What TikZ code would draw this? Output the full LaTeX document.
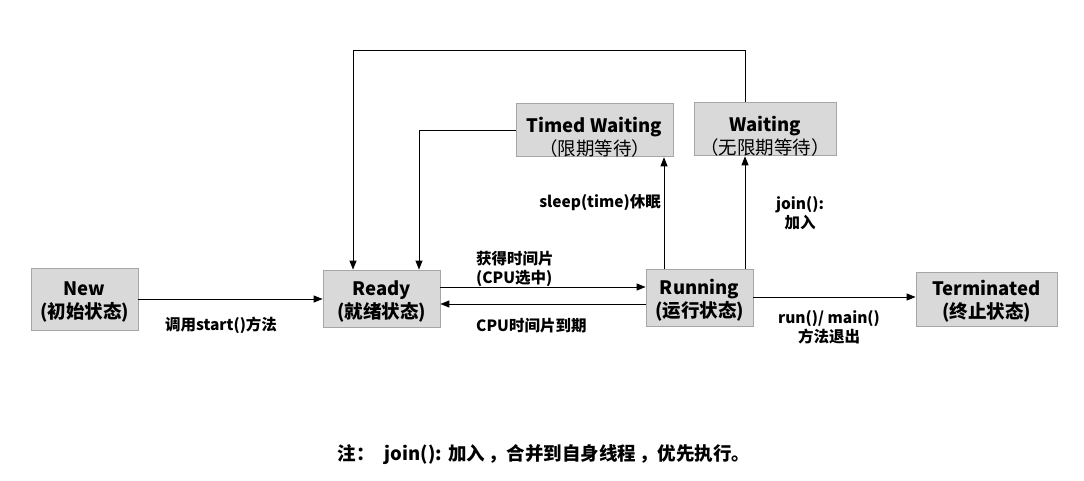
\documentclass[tikz,border=0pt]{standalone}
\usepackage{fontspec}
\setmainfont{Noto Sans CJK SC}
\usetikzlibrary{arrows.meta}
\newcommand{\pushdown}[1]{\rule{0pt}{#1}}
\begin{document}
\begin{tikzpicture}[x=1pt,y=-1pt,
  state/.style={draw=black!35, fill=black!15, line width=0.8pt, align=center, inner sep=0pt, font=\fontsize{18.5}{23}\selectfont\bfseries},
  lbl/.style={font=\fontsize{15.5}{19}\selectfont\bfseries, inner sep=0pt},
  conn/.style={line width=0.9pt, -{Triangle[length=9pt,width=7pt]}}]
\useasboundingbox (0,0) rectangle (1084,481);
\node[state, minimum width=107pt, minimum height=62pt] (new) at (84.5,299) {\pushdown{20pt}New\\(初始状态)};
\node[state, minimum width=117pt, minimum height=57pt] (ready) at (381.5,298.5) {\pushdown{20pt}Ready\\(就绪状态)};
\node[state, minimum width=107pt, minimum height=57pt] (run) at (699.5,297.5) {\pushdown{20pt}Running\\(运行状态)};
\node[state, minimum width=141pt, minimum height=54pt] (term) at (986.5,299) {\pushdown{20pt}Terminated\\(终止状态)};
\node[state, minimum width=157pt, minimum height=50pt] (tw) at (594.5,130) {\pushdown{29pt}Timed Waiting\\{\mdseries（限期等待）}};
\node[state, minimum width=142pt, minimum height=50pt] (wait) at (765,129) {\pushdown{29pt}Waiting\\{\mdseries（无限期等待）}};
\coordinate (c1) at (419,130);
\coordinate (c2) at (745,50);
\coordinate (c3) at (353,50);
\draw[conn] (new.east |- 0,299) -- (ready.west |- 0,299);
\draw[conn] (ready.east |- 0,287) -- (run.west |- 0,287);
\draw[conn] (run.west |- 0,304) -- (ready.east |- 0,304);
\draw[conn] (run.east |- 0,297) -- (term.west |- 0,297);
\draw[conn] (run.north -| 664,0) -- (tw.south -| 664,0);
\draw[conn] (run.north -| 745,0) -- (wait.south -| 745,0);
\draw[conn] (tw.west) -- (c1) -- (ready.north -| c1);
\draw[conn] (wait.north -| c2) -- (c2) -- (c3) -- (ready.north -| c3);
\node[lbl] (l1) at (221,325) {调用start()方法};
\node[lbl, align=left, anchor=west] (l2) at (476,269) {获得时间片\\(CPU选中)};
\node[lbl, anchor=west] (l3) at (476,326) {CPU时间片到期};
\node[lbl, align=center] (l4) at (829,327) {run()/ main()\\方法退出};
\node[lbl, anchor=east] (l5) at (661,203) {sleep(time)休眠};
\node[lbl, align=center] (l6) at (800,213) {join():\\加入};
\node[font=\fontsize{18.5}{21}\selectfont\bfseries, inner sep=0pt] (note) at (544,455) {注：\hspace{10pt}join():\hspace{6pt}加入\hspace{3pt}，合并到自身线程\hspace{3pt}，优先执行。};
\end{tikzpicture}
\end{document}
